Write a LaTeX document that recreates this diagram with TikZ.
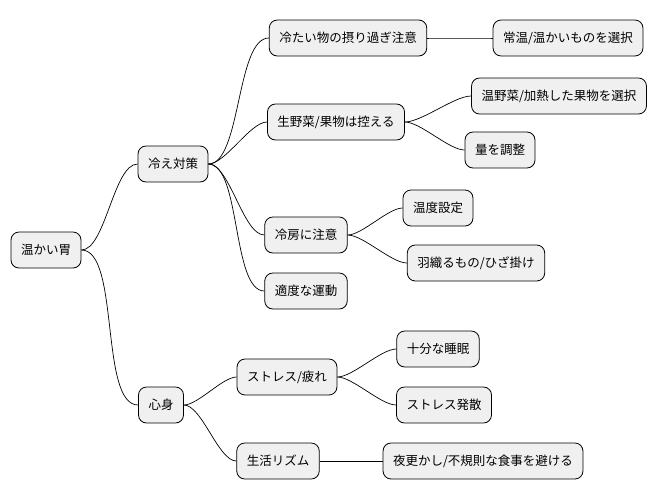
\documentclass[tikz,border=0pt]{standalone}
\usepackage{fontspec}
\newfontfamily\cjk{Noto Sans CJK JP}
\begin{document}
\begin{tikzpicture}[x=1pt,y=-1pt,
  topic/.style={draw=black,fill=black!6,rounded corners=8pt,minimum height=36pt,
    inner xsep=10pt,font=\cjk\fontsize{12.5}{15}\selectfont,line width=0.8pt},
  branch/.style={line width=0.7pt,out=0,in=180,looseness=0.6}]
\useasboundingbox (0,0) rectangle (666,499);
\node[topic] (root) at (46,250) {温かい胃};
\node[topic] (cold) at (173,164) {冷え対策};
\node[topic] (mind) at (161,405) {心身};
\node[topic] (drink) at (348,38) {冷たい物の摂り過ぎ注意};
\node[topic] (warm) at (568,38) {常温/温かいものを選択};
\node[topic] (raw) at (336,122) {生野菜/果物は控える};
\node[topic] (cook) at (559,96) {温野菜/加熱した果物を選択};
\node[topic] (amount) at (500,150) {量を調整};
\node[topic] (aircon) at (306,235) {冷房に注意};
\node[topic] (temp) at (438,208) {温度設定};
\node[topic] (cover) at (476,263) {羽織るもの/ひざ掛け};
\node[topic] (move) at (306,291) {適度な運動};
\node[topic] (stress) at (287,377) {ストレス/疲れ};
\node[topic] (sleep) at (438,349) {十分な睡眠};
\node[topic] (relief) at (444,405) {ストレス発散};
\node[topic] (rhythm) at (278,461) {生活リズム};
\node[topic] (night) at (483,461) {夜更かし/不規則な食事を避ける};
% branches
\draw[branch] (root.east) to (cold.west);
\draw[branch] (root.east) to (mind.west);
\draw[branch] (cold.east) to (drink.west);
\draw[branch] (cold.east) to (raw.west);
\draw[branch] (cold.east) to (aircon.west);
\draw[branch] (cold.east) to (move.west);
\draw[branch] (drink.east) to (warm.west);
\draw[branch] (raw.east) to (cook.west);
\draw[branch] (raw.east) to (amount.west);
\draw[branch] (aircon.east) to (temp.west);
\draw[branch] (aircon.east) to (cover.west);
\draw[branch] (mind.east) to (stress.west);
\draw[branch] (mind.east) to (rhythm.west);
\draw[branch] (stress.east) to (sleep.west);
\draw[branch] (stress.east) to (relief.west);
\draw[branch] (rhythm.east) to (night.west);
\end{tikzpicture}
\end{document}
